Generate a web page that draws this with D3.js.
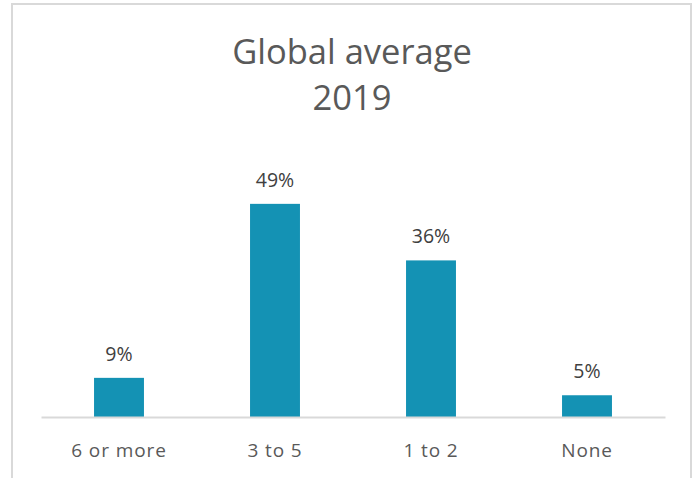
<!DOCTYPE html>
<html>
<head>
<meta charset="utf-8">
<script src="https://cdn.jsdelivr.net/npm/d3@7"></script>
<style>
  body { margin: 0; background: #fff; }
  svg { display: block; font-family: "Open Sans", "Noto Sans", sans-serif; }
</style>
</head>
<body>
<svg id="chart"></svg>
<script>
var titleLines = ["Global average", "2019"];
var categories = ["6 or more", "3 to 5", "1 to 2", "None"];
var values = [9, 49, 36, 5];

var width = 693, height = 478;
var svg = d3.select("#chart").attr("width", width).attr("height", height);

// chart frame
svg.append("rect")
    .attr("x", 12).attr("y", 4)
    .attr("width", 679).attr("height", 490)
    .attr("fill", "#fff")
    .attr("stroke", "#d9d9d9")
    .attr("stroke-width", 2);

var plot = {left: 41, right: 665, top: 156, bottom: 417};

var x = d3.scaleBand()
    .domain(categories)
    .range([plot.left, plot.right])
    .paddingInner(0.68)
    .paddingOuter(0.34);

var y = d3.scaleLinear()
    .domain([0, 60])
    .range([plot.bottom, plot.top]);

// title
svg.append("g").selectAll("text")
    .data(titleLines)
    .enter().append("text")
    .attr("x", 352)
    .attr("y", function(d, i) { return 64 + i * 46; })
    .attr("text-anchor", "middle")
    .attr("fill", "#595959")
    .attr("font-size", 34.5)
    .text(function(d) { return d; });

// bars
svg.append("g").selectAll("rect")
    .data(values)
    .enter().append("rect")
    .attr("x", function(d, i) { return x(categories[i]); })
    .attr("width", x.bandwidth())
    .attr("y", function(d) { return y(d); })
    .attr("height", function(d) { return y(0) - y(d); })
    .attr("fill", "#1492b4");

// value labels
svg.append("g").selectAll("text")
    .data(values)
    .enter().append("text")
    .attr("x", function(d, i) { return x(categories[i]) + x.bandwidth() / 2; })
    .attr("y", function(d) { return y(d) - 17; })
    .attr("text-anchor", "middle")
    .attr("fill", "#404040")
    .attr("font-size", 19.5)
    .text(function(d) { return d + "%"; });

// x axis
var xAxis = svg.append("g")
    .attr("transform", "translate(0," + plot.bottom + ")")
    .call(d3.axisBottom(x).tickSize(0).tickPadding(0));
xAxis.select(".domain").attr("stroke", "#d9d9d9").attr("stroke-width", 2);
xAxis.selectAll("text")
    .attr("dy", 0)
    .attr("y", 40)
    .attr("fill", "#595959")
    .attr("font-size", 19)
    .attr("letter-spacing", 0.9)
    .attr("font-family", "\"Open Sans\", \"Noto Sans\", sans-serif");
</script>
</body>
</html>
